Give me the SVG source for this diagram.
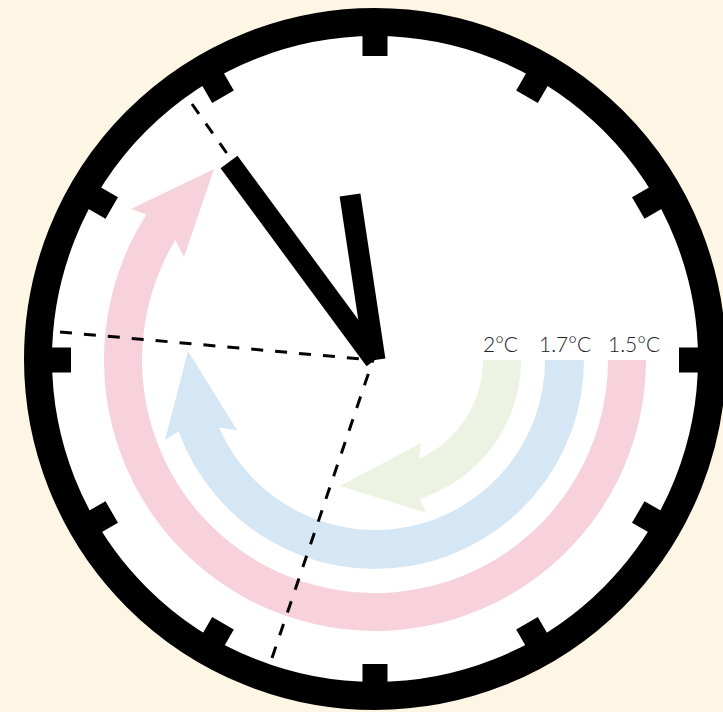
<svg xmlns="http://www.w3.org/2000/svg" xmlns:xlink="http://www.w3.org/1999/xlink" width="723" height="712" viewBox="0 0 723 712">
  <style>
    .dash { stroke: #000; stroke-width: 3; stroke-dasharray: 12 12; fill: none; }
    .hand { stroke: #000; stroke-width: 21; stroke-linecap: butt; fill: none; }
    .lbl { font-family: Lato, "Open Sans", "Liberation Sans", sans-serif; font-size: 21px; font-weight: 300; fill: #222; }
    .tick { fill: #000; }
  </style>
  <defs>
    <rect id="tick" class="tick" x="-12.5" y="-330" width="25" height="26"/>
  </defs>
  <rect width="723" height="712" fill="#FEF6E5"/>
  <g id="clock-face">
    <circle cx="375" cy="359" r="337" fill="#fff" stroke="#000" stroke-width="28"/>
    <g id="ticks" transform="translate(375 360)">
      <use xlink:href="#tick"/>
      <use xlink:href="#tick" transform="rotate(30)"/>
      <use xlink:href="#tick" transform="rotate(60)"/>
      <use xlink:href="#tick" transform="rotate(90)"/>
      <use xlink:href="#tick" transform="rotate(120)"/>
      <use xlink:href="#tick" transform="rotate(150)"/>
      <use xlink:href="#tick" transform="rotate(180)"/>
      <use xlink:href="#tick" transform="rotate(210)"/>
      <use xlink:href="#tick" transform="rotate(240)"/>
      <use xlink:href="#tick" transform="rotate(270)"/>
      <use xlink:href="#tick" transform="rotate(300)"/>
      <use xlink:href="#tick" transform="rotate(330)"/>
    </g>
  </g>
  <g id="arrow-1-5C">
    <path fill="#F7D2DD" d="M646,360 A271,271 0 1 1 146.4,214.4 L131,209 L214,169 L184,257 L175.3,240 A233,233 0 1 0 608,360 Z"/>
  </g>
  <g id="arrow-1-7C">
    <path fill="#D5E6F5" d="M584,360 A209,209 0 0 1 178.6,431.5 L165,440 L188,351 L237,430 L219.1,427.8 A170,170 0 0 0 545,360 Z"/>
  </g>
  <g id="arrow-2C">
    <path fill="#ECF3E3" d="M521,360 A146,146 0 0 1 419.6,499 L427,513 L340,486 L421,443 L418.9,458.7 A108,108 0 0 0 483,360 Z"/>
  </g>
  <g id="connectors">
    <line class="dash" x1="192" y1="104" x2="373" y2="360"/>
    <line class="dash" x1="60" y1="332" x2="373" y2="360"/>
    <line class="dash" x1="272" y1="658" x2="373" y2="360"/>
  </g>
  <g id="hands">
    <line class="hand" x1="375" y1="360" x2="350" y2="195"/>
    <line class="hand" x1="375" y1="360" x2="229" y2="162"/>
  </g>
  <g id="labels">
    <text class="lbl" x="483" y="352">2°C</text>
    <text class="lbl" x="539" y="352">1.7°C</text>
    <text class="lbl" x="608" y="352">1.5°C</text>
  </g>
</svg>
